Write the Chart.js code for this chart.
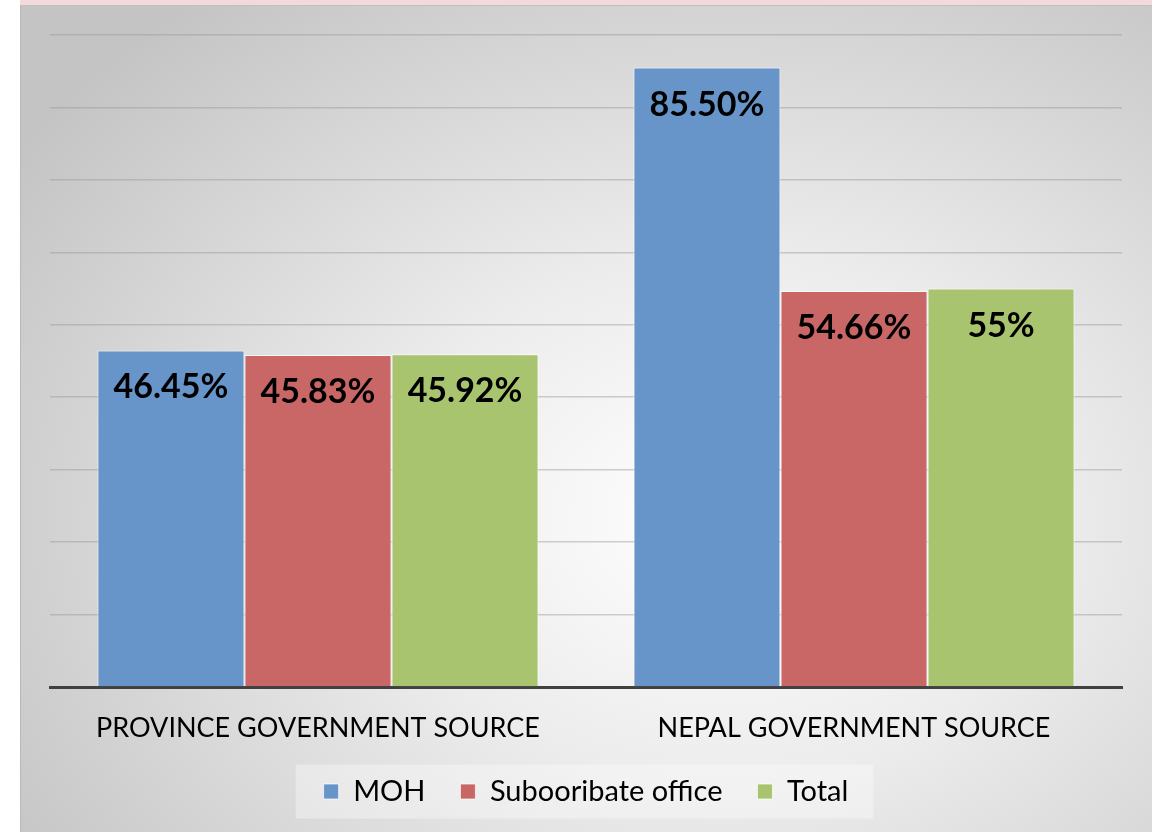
<!DOCTYPE html>
<html lang="en">
<head>
  <meta charset="UTF-8">
  <title>Government Source by Office</title>
  <script src="https://cdn.jsdelivr.net/npm/chart.js"></script>
  <style>
    body { margin: 0; background: #fff; }
    #wrap { position: relative; width: 1157px; height: 832px; }
    #strip { position: absolute; left: 20px; top: 0; width: 1132px; height: 5px; background: #f3d8dc; }
    #panel { position: absolute; left: 20px; top: 5px; width: 1132px; height: 827px;
      background: radial-gradient(ellipse 75% 80% at 62% 62%, #ffffff 0%, #ececec 40%, #c4c4c4 100%);
      border-left: 1px solid #b8b8b8; border-top: 1px solid #c0c0c0; box-sizing: border-box; }
    canvas { position: absolute; left: 0; top: 0; }
  </style>
</head>
<body>
  <div id="wrap">
    <div id="strip"></div>
    <div id="panel"></div>
    <canvas id="chart" width="1157" height="832"></canvas>
  </div>
  <script>
    const categories = ['PROVINCE GOVERNMENT SOURCE', 'NEPAL GOVERNMENT SOURCE'];
    const moh = [46.45, 85.50];
    const subOffice = [45.83, 54.66];
    const total = [45.92, 55];

    // value labels drawn inside the top of each bar
    const barLabels = {
      id: 'barLabels',
      afterDatasetsDraw(chart) {
        const ctx = chart.ctx;
        ctx.save();
        ctx.font = 'bold 34px Lato, "Open Sans", sans-serif';
        ctx.fillStyle = '#000';
        ctx.textAlign = 'center';
        ctx.textBaseline = 'middle';
        chart.data.datasets.forEach((ds, i) => {
          chart.getDatasetMeta(i).data.forEach((bar, j) => {
            const v = ds.data[j];
            const txt = Number.isInteger(v) ? v + '%' : v.toFixed(2) + '%';
            ctx.fillText(txt, bar.x, bar.y + 37);
          });
        });
        ctx.restore();
      }
    };

    // light box behind the legend
    const legendBox = {
      id: 'legendBox',
      beforeDraw(chart) {
        const boxes = chart.legend && chart.legend.legendHitBoxes;
        if (!boxes || !boxes.length) return;
        const l = Math.min(...boxes.map(b => b.left)) - 28;
        const r = Math.max(...boxes.map(b => b.left + b.width)) + 25;
        const mid = boxes[0].top + boxes[0].height / 2;
        const ctx = chart.ctx;
        ctx.save();
        ctx.fillStyle = 'rgba(255,255,255,0.35)';
        ctx.fillRect(l, mid - 27, r - l, 54);
        ctx.restore();
      }
    };

    new Chart(document.getElementById('chart'), {
      type: 'bar',
      data: {
        labels: categories,
        datasets: [
          { label: 'MOH', data: moh, backgroundColor: '#6794c9', borderColor: 'rgba(255,255,255,0.7)', borderWidth: 1 },
          { label: 'Subooribate office', data: subOffice, backgroundColor: '#c96766', borderColor: 'rgba(255,255,255,0.7)', borderWidth: 1 },
          { label: 'Total', data: total, backgroundColor: '#a9c46e', borderColor: 'rgba(255,255,255,0.7)', borderWidth: 1 }
        ]
      },
      options: {
        responsive: false,
        animation: false,
        layout: { padding: { left: 50, right: 35, top: 35, bottom: 16 } },
        datasets: { bar: { barPercentage: 1, categoryPercentage: 0.823 } },
        plugins: {
          tooltip: { enabled: false },
          legend: {
            position: 'bottom',
            labels: {
              boxWidth: 15, boxHeight: 15, padding: 35, color: '#000',
              font: { family: 'Lato, "Open Sans", sans-serif', size: 29 }
            }
          }
        },
        scales: {
          x: {
            grid: { display: false },
            border: { color: '#404040', width: 3 },
            ticks: { color: '#000', padding: 17, font: { family: 'Lato, "Open Sans", sans-serif', size: 27 } },
            afterFit(scale) { scale.height = 55; }
          },
          y: {
            min: 0, max: 90,
            ticks: { display: false, stepSize: 10 },
            border: { display: false },
            grid: { color: 'rgba(150,150,150,0.45)', lineWidth: 1.5, drawTicks: false }
          }
        }
      },
      plugins: [legendBox, barLabels]
    });
  </script>
</body>
</html>
